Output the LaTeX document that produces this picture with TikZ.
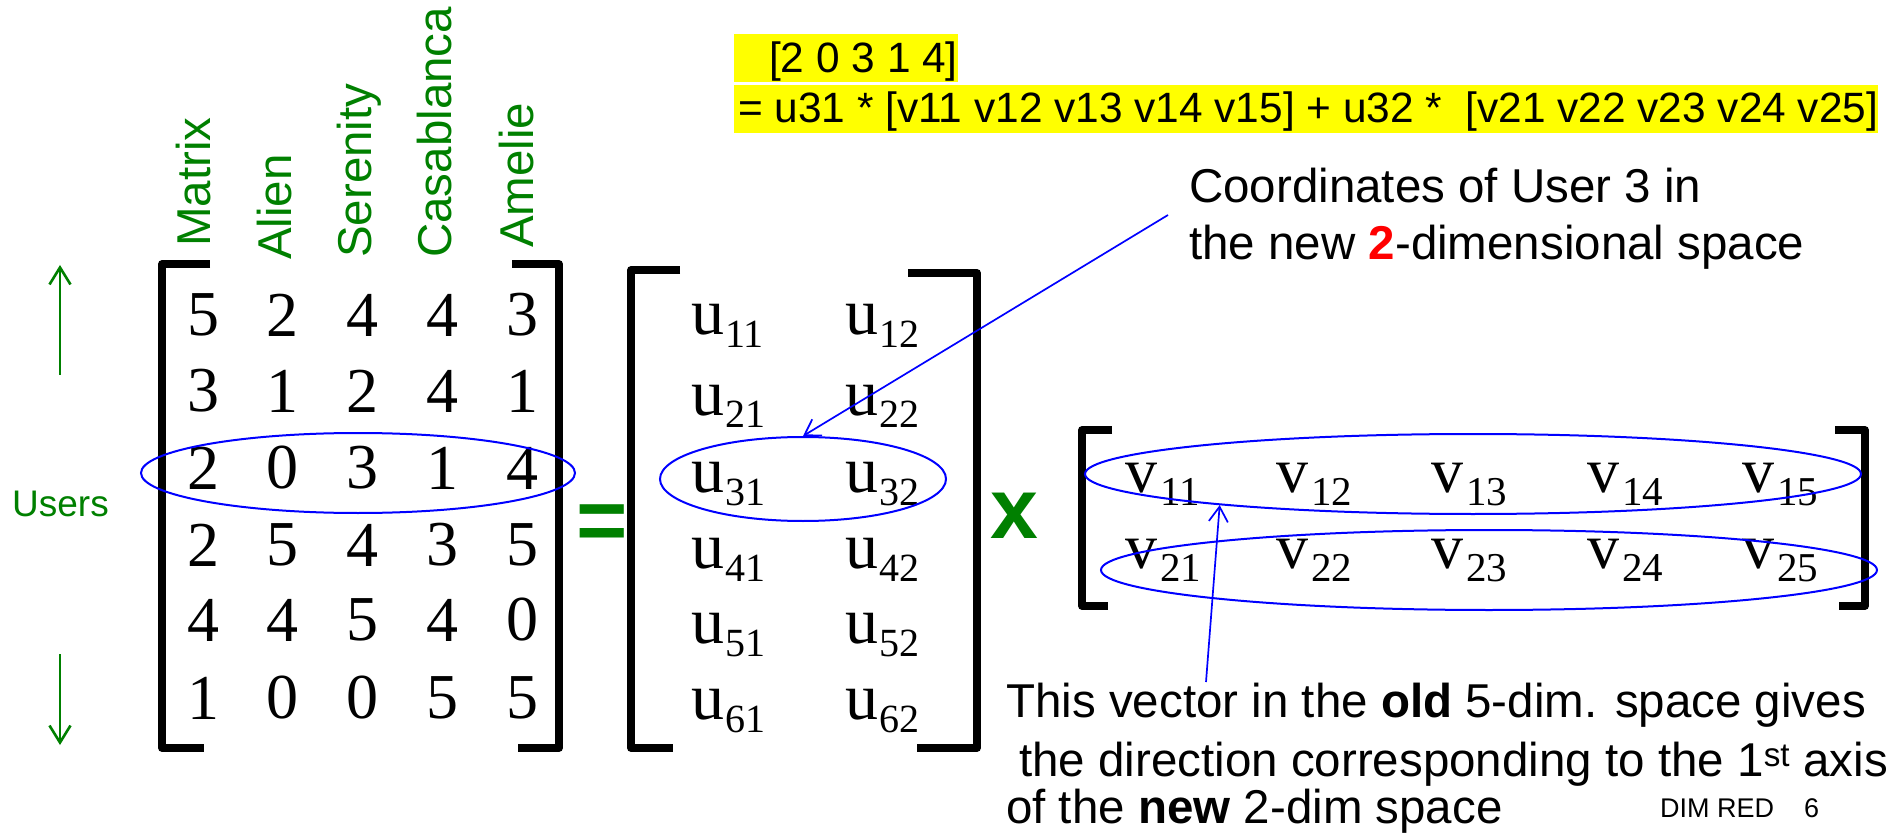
\documentclass[tikz,border=0pt]{standalone}
\usepackage{fontspec}
\setmainfont{Liberation Sans}
\newfontfamily\tms{Liberation Serif}
\usetikzlibrary{arrows.meta,shapes.geometric}
\definecolor{pgreen}{RGB}{0,128,0}
\definecolor{pblue}{RGB}{0,0,255}
\definecolor{hlyellow}{RGB}{255,255,0}
\newcommand\fsz[1]{\fontsize{#1}{#1}\selectfont}
\newcommand\uent[1]{u\kern1pt\raisebox{-13pt}{\fsz{40}#1}}
\newcommand\vent[1]{v\kern3pt\raisebox{-13.5pt}{\fsz{41}#1}}
\begin{document}
\begin{tikzpicture}[x=1pt,y=-1pt,
  lbl/.style={font=\fsz{47.5}, inner sep=0, anchor=base west},
  movie/.style={font=\fsz{47.5}, text=pgreen, rotate=90, inner sep=0, anchor=base west},
  num/.style={font=\tms\fsz{64}, inner sep=0},
  ment/.style={font=\tms\fsz{66}, inner sep=0, anchor=base west},
  brk/.style={line width=7.5pt, line join=round},
  ring/.style={draw=pblue, line width=2pt, ellipse, inner sep=0},
  conn/.style={draw=pblue, line width=1.7pt, -{Straight Barb[length=15pt,width=19pt]}},
  uarr/.style={draw=pgreen, line width=2.6pt, -{Straight Barb[length=17pt,width=21pt]}},
  hl/.style={fill=hlyellow, inner sep=0, anchor=north west, font=\fsz{42.4}},
  op/.style={text=pgreen, font=\bfseries\fsz{88}, inner sep=0, anchor=base}
]
\fill[white] (0,0) rectangle (1899,834);
\useasboundingbox (0,0) rectangle (1899,834);

% highlighted formula
\node[hl, text height=38pt, text depth=10pt] (hl1) at (734,34) {\hspace{35pt}[2 0 3 1 4]\hspace{4pt}};
\node[hl, text height=37pt, text depth=11pt] (hl2) at (734,85) {\hspace{4pt}= u31 * [v11 v12 v13 v14 v15] + u32 *\ \ [v21 v22 v23 v24 v25]\hspace{2pt}};

% movie names
\node[movie] (m1) at (210,247) {Matrix};
\node[movie] (m2) at (291,260) {Alien};
\node[movie] (m3) at (371,258) {Serenity};
\node[movie] (m4) at (451,258) {Casablanca};
\node[movie] (m5) at (533,248) {Amelie};

% users
\node[lbl, font=\fsz{37}, text=pgreen] (users) at (12,516) {Users};
\coordinate (ua0) at (60,375);
\coordinate (ua1) at (60,265);
\coordinate (da0) at (60,654);
\coordinate (da1) at (60,745);
\draw[uarr] (ua0) -- (ua1);
\draw[uarr] (da0) -- (da1);

% ratings matrix
\foreach \v [count=\c] in {5,2,4,4,3} \node[num] (a1\c) at ({123.25+79.75*\c},315) {\v};
\foreach \v [count=\c] in {3,1,2,4,1} \node[num] (a2\c) at ({123.25+79.75*\c},391) {\v};
\foreach \v [count=\c] in {2,0,3,1,4} \node[num] (a3\c) at ({123.25+79.75*\c},468) {\v};
\foreach \v [count=\c] in {2,5,4,3,5} \node[num] (a4\c) at ({123.25+79.75*\c},545) {\v};
\foreach \v [count=\c] in {4,4,5,4,0} \node[num] (a5\c) at ({123.25+79.75*\c},620) {\v};
\foreach \v [count=\c] in {1,0,0,5,5} \node[num] (a6\c) at ({123.25+79.75*\c},698) {\v};
\draw[brk] (210,264) -- (162,264) -- (162,748) -- (204,748);
\draw[brk] (512,264) -- (559,264) -- (559,748) -- (518,748);
\node[ring, minimum width=434pt, minimum height=80pt] (ring3) at (358,473) {};

\node[op] (eq) at (602,550) {=};

% U matrix
\foreach \y [count=\r] in {335,415,492,568,643,719} {
  \node[ment] (u\r1) at (691,\y) {\uent{\r1}};
  \node[ment] (u\r2) at (845,\y) {\uent{\r2}};
}
\draw[brk] (680,270) -- (631,270) -- (631,748) -- (673,748);
\draw[brk] (908,273) -- (977,273) -- (977,748) -- (917,748);
\node[ring, minimum width=286pt, minimum height=84pt] (uring) at (803,479) {};

\node[op, font=\bfseries\fsz{86}] (times) at (1014,538) {x};

% V matrix
\foreach \x [count=\c] in {1125,1276,1431,1587,1742} {
  \node[ment, font=\tms\fsz{64}] (v1\c) at (\x,492) {\vent{1\c}};
  \node[ment, font=\tms\fsz{64}] (v2\c) at (\x,568) {\vent{2\c}};
}
\draw[brk] (1112,430) -- (1082,430) -- (1082,606) -- (1108,606);
\draw[brk] (1835,430) -- (1865,430) -- (1865,606) -- (1839,606);
\node[ring, minimum width=776pt, minimum height=80pt] (vr1) at (1473,474) {};
\node[ring, minimum width=776pt, minimum height=80pt] (vr2) at (1489,570) {};

% annotations
\node[lbl] (c1) at (1189,203) {Coordinates of User 3 in};
\node[lbl] (c2) at (1189,260) {the new {\bfseries\color{red}2}-dimensional space};
\node[lbl] (b1) at (1006,717) {This vector in the \textbf{old} 5-dim. space gives};
\node[lbl] (b2) at (1006,776) {\hspace{13pt}the direction corresponding to the 1\textsuperscript{st} axis};
\node[lbl] (b3) at (1006,823) {of the \textbf{new} 2-dim space};
\node[lbl, font=\fsz{27}] (dim) at (1660,817) {DIM RED\hspace{30pt}6};

\coordinate (ca) at (1168,215);
\draw[conn] (ca) -- (uring.north);
\coordinate (va) at (1206,682);
\draw[conn] (va) -- (vr1.187.3);
\end{tikzpicture}
\end{document}
